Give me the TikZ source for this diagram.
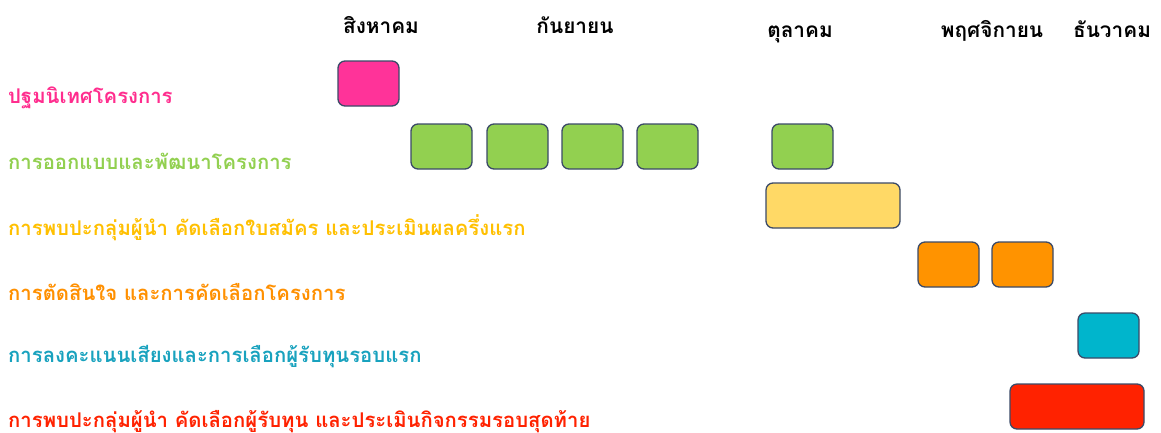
\documentclass[tikz,border=0pt]{standalone}
\usepackage{fontspec}
\newfontfamily\thai[Script=Thai]{Loma}
\definecolor{bordc}{HTML}{3B4A68}
\definecolor{cpink}{HTML}{FF3399}
\definecolor{cgreen}{HTML}{92D050}
\definecolor{cyellow}{HTML}{FFD966}
\definecolor{corange}{HTML}{FF9300}
\definecolor{cteal}{HTML}{00B5CC}
\definecolor{cred}{HTML}{FF2200}
\definecolor{tpink}{HTML}{FF2D8E}
\definecolor{tgreen}{HTML}{92D050}
\definecolor{tyellow}{HTML}{FFC000}
\definecolor{torange}{HTML}{FF9000}
\definecolor{tteal}{HTML}{18A2BE}
\definecolor{tred}{HTML}{FF2200}
\tikzset{
  bar/.style={draw=bordc, line width=1.3pt, rounded corners=7pt},
  month/.style={font=\thai\bfseries\fontsize{20.8}{22}\selectfont, text=black, inner sep=0pt, anchor=base},
  task/.style={font=\thai\bfseries\fontsize{20.3}{22}\selectfont, inner sep=0pt, anchor=base west},
}
\begin{document}
\begin{tikzpicture}[x=1pt,y=-1pt]
\useasboundingbox (0,0) rectangle (1161,432);
\fill[white] (0,0) rectangle (1161,432);
% months
\node[month] (m8) at (381,33) {สิงหาคม};
\node[month] (m9) at (575,33) {กันยายน};
\node[month] (m10) at (800,37) {ตุลาคม};
\node[month] (m11) at (992,37) {พฤศจิกายน};
\node[month] (m12) at (1112,37) {ธันวาคม};
% tasks
\node[task, text=tpink] (t1) at (8,103) {ปฐมนิเทศโครงการ};
\node[task, text=tgreen] (t2) at (8,169) {การออกแบบและพัฒนาโครงการ};
\node[task, text=tyellow] (t3) at (8,235) {การพบปะกลุ่มผู้นำ คัดเลือกใบสมัคร และประเมินผลครึ่งแรก};
\node[task, text=torange] (t4) at (8,300) {การตัดสินใจ และการคัดเลือกโครงการ};
\node[task, text=tteal] (t5) at (8,362) {การลงคะแนนเสียงและการเลือกผู้รับทุนรอบแรก};
\node[task, text=tred] (t6) at (8,427) {การพบปะกลุ่มผู้นำ คัดเลือกผู้รับทุน และประเมินกิจกรรมรอบสุดท้าย};
% bars
\draw[bar, fill=cpink] (338,61) rectangle (399,106);
\draw[bar, fill=cgreen] (411,124) rectangle (472,169);
\draw[bar, fill=cgreen] (487,124) rectangle (548,169);
\draw[bar, fill=cgreen] (562,124) rectangle (623,169);
\draw[bar, fill=cgreen] (637,124) rectangle (698,169);
\draw[bar, fill=cgreen] (772,124) rectangle (833,169);
\draw[bar, fill=cyellow] (766,183) rectangle (900,228);
\draw[bar, fill=corange] (918,242) rectangle (979,287);
\draw[bar, fill=corange] (992,242) rectangle (1053,287);
\draw[bar, fill=cteal] (1078,313) rectangle (1139,358);
\draw[bar, fill=cred] (1010,384) rectangle (1144,429);
\end{tikzpicture}
\end{document}
